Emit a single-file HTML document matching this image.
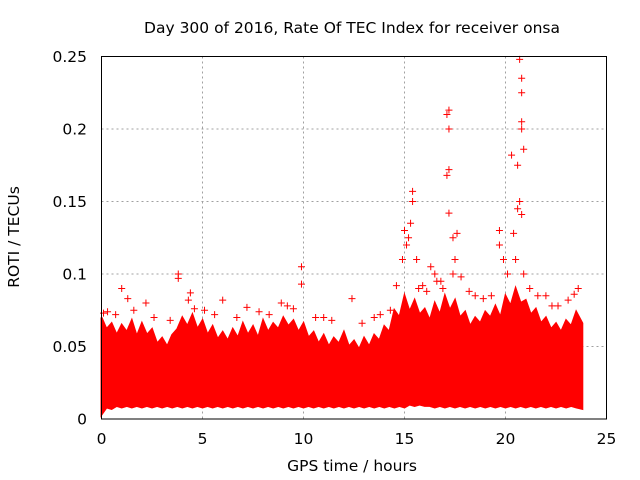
<!DOCTYPE html>
<html><head><meta charset="utf-8"><style>
body{margin:0;background:#fff;}
svg{display:block;font-family:"DejaVu Sans","Liberation Sans",sans-serif;}
</style></head><body>
<svg id="chart" width="640" height="480" viewBox="0 0 640 480">
<rect width="640" height="480" fill="#fff"/>
<text x="352" y="33" font-size="15.5" text-anchor="middle">Day 300 of 2016, Rate Of TEC Index for receiver onsa</text>
<text transform="translate(19,237) rotate(-90)" font-size="15.5" text-anchor="middle">ROTI / TECUs</text>
<text x="352" y="471" font-size="15.5" text-anchor="middle">GPS time / hours</text>
<g id="grid"></g>
<g id="marks"></g>
<rect x="101.5" y="56.5" width="505" height="362.5" fill="none" stroke="#000" stroke-width="1"/>
<g id="ticks"></g>
</svg>
<script>
const xTicks=[0,5,10,15,20,25];
const yTicks=[0,0.05,0.1,0.15,0.2,0.25];
const yTickLabels=["0","0.05","0.1","0.15","0.2","0.25"];
const envTime=[0,0.25,0.5,0.75,1,1.25,1.5,1.75,2,2.25,2.5,2.75,3,3.25,3.5,3.75,4,4.25,4.5,4.75,5,5.25,5.5,5.75,6,6.25,6.5,6.75,7,7.25,7.5,7.75,8,8.25,8.5,8.75,9,9.25,9.5,9.75,10,10.25,10.5,10.75,11,11.25,11.5,11.75,12,12.25,12.5,12.75,13,13.25,13.5,13.75,14,14.25,14.5,14.75,15,15.25,15.5,15.75,16,16.25,16.5,16.75,17,17.25,17.5,17.75,18,18.25,18.5,18.75,19,19.25,19.5,19.75,20,20.25,20.5,20.75,21,21.25,21.5,21.75,22,22.25,22.5,22.75,23,23.25,23.5,23.8];
const envUpper=[0.07,0.062,0.066,0.058,0.065,0.06,0.068,0.057,0.066,0.058,0.062,0.052,0.056,0.05,0.058,0.062,0.07,0.064,0.072,0.062,0.068,0.058,0.064,0.055,0.06,0.054,0.062,0.056,0.066,0.058,0.064,0.056,0.068,0.06,0.066,0.062,0.07,0.064,0.068,0.06,0.066,0.056,0.06,0.052,0.058,0.05,0.056,0.052,0.06,0.05,0.054,0.048,0.056,0.05,0.058,0.054,0.064,0.06,0.075,0.07,0.085,0.074,0.082,0.072,0.076,0.068,0.08,0.072,0.085,0.075,0.082,0.07,0.074,0.064,0.07,0.066,0.074,0.07,0.078,0.07,0.085,0.078,0.09,0.08,0.082,0.072,0.076,0.066,0.07,0.062,0.066,0.06,0.068,0.064,0.074,0.066,0.072,0.06];
const envLower=[0.003,0.008,0.007,0.009,0.008,0.009,0.008,0.009,0.008,0.009,0.008,0.009,0.008,0.009,0.008,0.009,0.008,0.009,0.008,0.009,0.008,0.009,0.008,0.009,0.008,0.009,0.008,0.009,0.008,0.009,0.008,0.009,0.008,0.009,0.008,0.009,0.008,0.009,0.008,0.009,0.008,0.009,0.008,0.009,0.008,0.009,0.008,0.009,0.008,0.009,0.008,0.009,0.008,0.009,0.008,0.009,0.008,0.009,0.008,0.009,0.008,0.01,0.009,0.01,0.009,0.009,0.008,0.009,0.008,0.009,0.008,0.009,0.008,0.009,0.008,0.009,0.008,0.009,0.008,0.009,0.008,0.009,0.008,0.009,0.008,0.009,0.008,0.009,0.008,0.009,0.008,0.009,0.008,0.009,0.008,0.007,0.006,0.004];
const outTime=[1,1.3,3.8,3.8,4.4,4.3,6,7.2,8.9,9.9,9.9,12.4,14.9,15,15.2,15.4,15.4,15.3,15.1,15.6,16.3,16.5,16.6,17.1,17.2,17.2,17.2,17.1,17.2,17.4,17.5,17.6,17.4,19.7,19.7,19.9,20.3,20.4,20.6,20.7,20.8,20.8,20.8,20.8,20.9,20.7,20.6,20.8,20.5,20.9,21.2,22,23.6,15.7,16.9,18.5,0.1,2.2,5.1,9.2,11,13.8,14.6,16.1,18.9,22.6,0.3,0.7,1.6,2.6,3.4,4.6,5.6,6.7,7.8,8.3,9.5,10.6,11.4,12.9,13.5,14.3,15.9,16.8,17.8,18.2,19.3,20.1,21.6,22.3,23.1,23.4];
const outRoti=[0.09,0.083,0.1,0.097,0.087,0.082,0.082,0.077,0.08,0.105,0.093,0.083,0.11,0.13,0.125,0.157,0.15,0.135,0.12,0.11,0.105,0.1,0.095,0.21,0.213,0.2,0.172,0.168,0.142,0.125,0.11,0.128,0.1,0.13,0.12,0.11,0.182,0.128,0.175,0.248,0.235,0.225,0.205,0.2,0.186,0.15,0.145,0.141,0.11,0.1,0.09,0.085,0.09,0.09,0.09,0.085,0.073,0.08,0.075,0.078,0.07,0.072,0.092,0.088,0.083,0.078,0.074,0.072,0.075,0.07,0.068,0.076,0.072,0.07,0.074,0.072,0.076,0.07,0.068,0.066,0.07,0.075,0.092,0.095,0.098,0.088,0.085,0.1,0.085,0.078,0.082,0.086];
const X0=101.5,X1=606.5,Y0=419,Y1=56.5;
const xs=t=>X0+(t-0)/(25-0)*(X1-X0);
const ys=v=>Y0-(v-0)/(0.25-0)*(Y0-Y1);
const NS="http://www.w3.org/2000/svg";
const grid=document.getElementById('grid'),ticks=document.getElementById('ticks'),marks=document.getElementById('marks');
function mk(tag,at,parent){const e=document.createElementNS(NS,tag);for(const k in at)e.setAttribute(k,at[k]);parent.appendChild(e);return e;}
xTicks.forEach(t=>{
 const x=xs(t);
 if(t>0&&t<25){const g=mk('line',{x1:x,x2:x,y1:Y1,y2:Y0,stroke:'#a0a0a0','stroke-dasharray':'2,3'},grid);
 
 }
 const l=mk('text',{x:x,y:444,'font-size':'15.5','text-anchor':'middle'},ticks);l.textContent=t;
 
 
});
yTicks.forEach((v,i)=>{
 const y=ys(v);
 if(i>0&&i<yTicks.length-1){const g=mk('line',{x1:X0,x2:X1,y1:y,y2:y,stroke:'#a0a0a0','stroke-dasharray':'2,3'},grid);
 
 }
 const l=mk('text',{x:87,y:y+5.5,'font-size':'15.5','text-anchor':'end'},ticks);l.textContent=yTickLabels[i];
 
 
});
let d='';
envTime.forEach((t,i)=>{d+=(i?'L':'M')+xs(t).toFixed(1)+','+ys(envUpper[i]).toFixed(1);});
for(let i=envTime.length-1;i>=0;i--)d+='L'+xs(envTime[i]).toFixed(1)+','+ys(envLower[i]).toFixed(1);
d+='Z';
const band=mk('path',{d:d,fill:'#ff0000',stroke:'#ff0000','stroke-width':'2'},marks);


outTime.forEach((t,i)=>{
 const x=xs(t),y=ys(outRoti[i]);
 const p=mk('path',{d:`M${x-3.5},${y}H${x+3.5}M${x},${y-3.5}V${y+3.5}`,stroke:'#ff0000','stroke-width':'1'},marks);
 
 
});
</script>
</body></html>
